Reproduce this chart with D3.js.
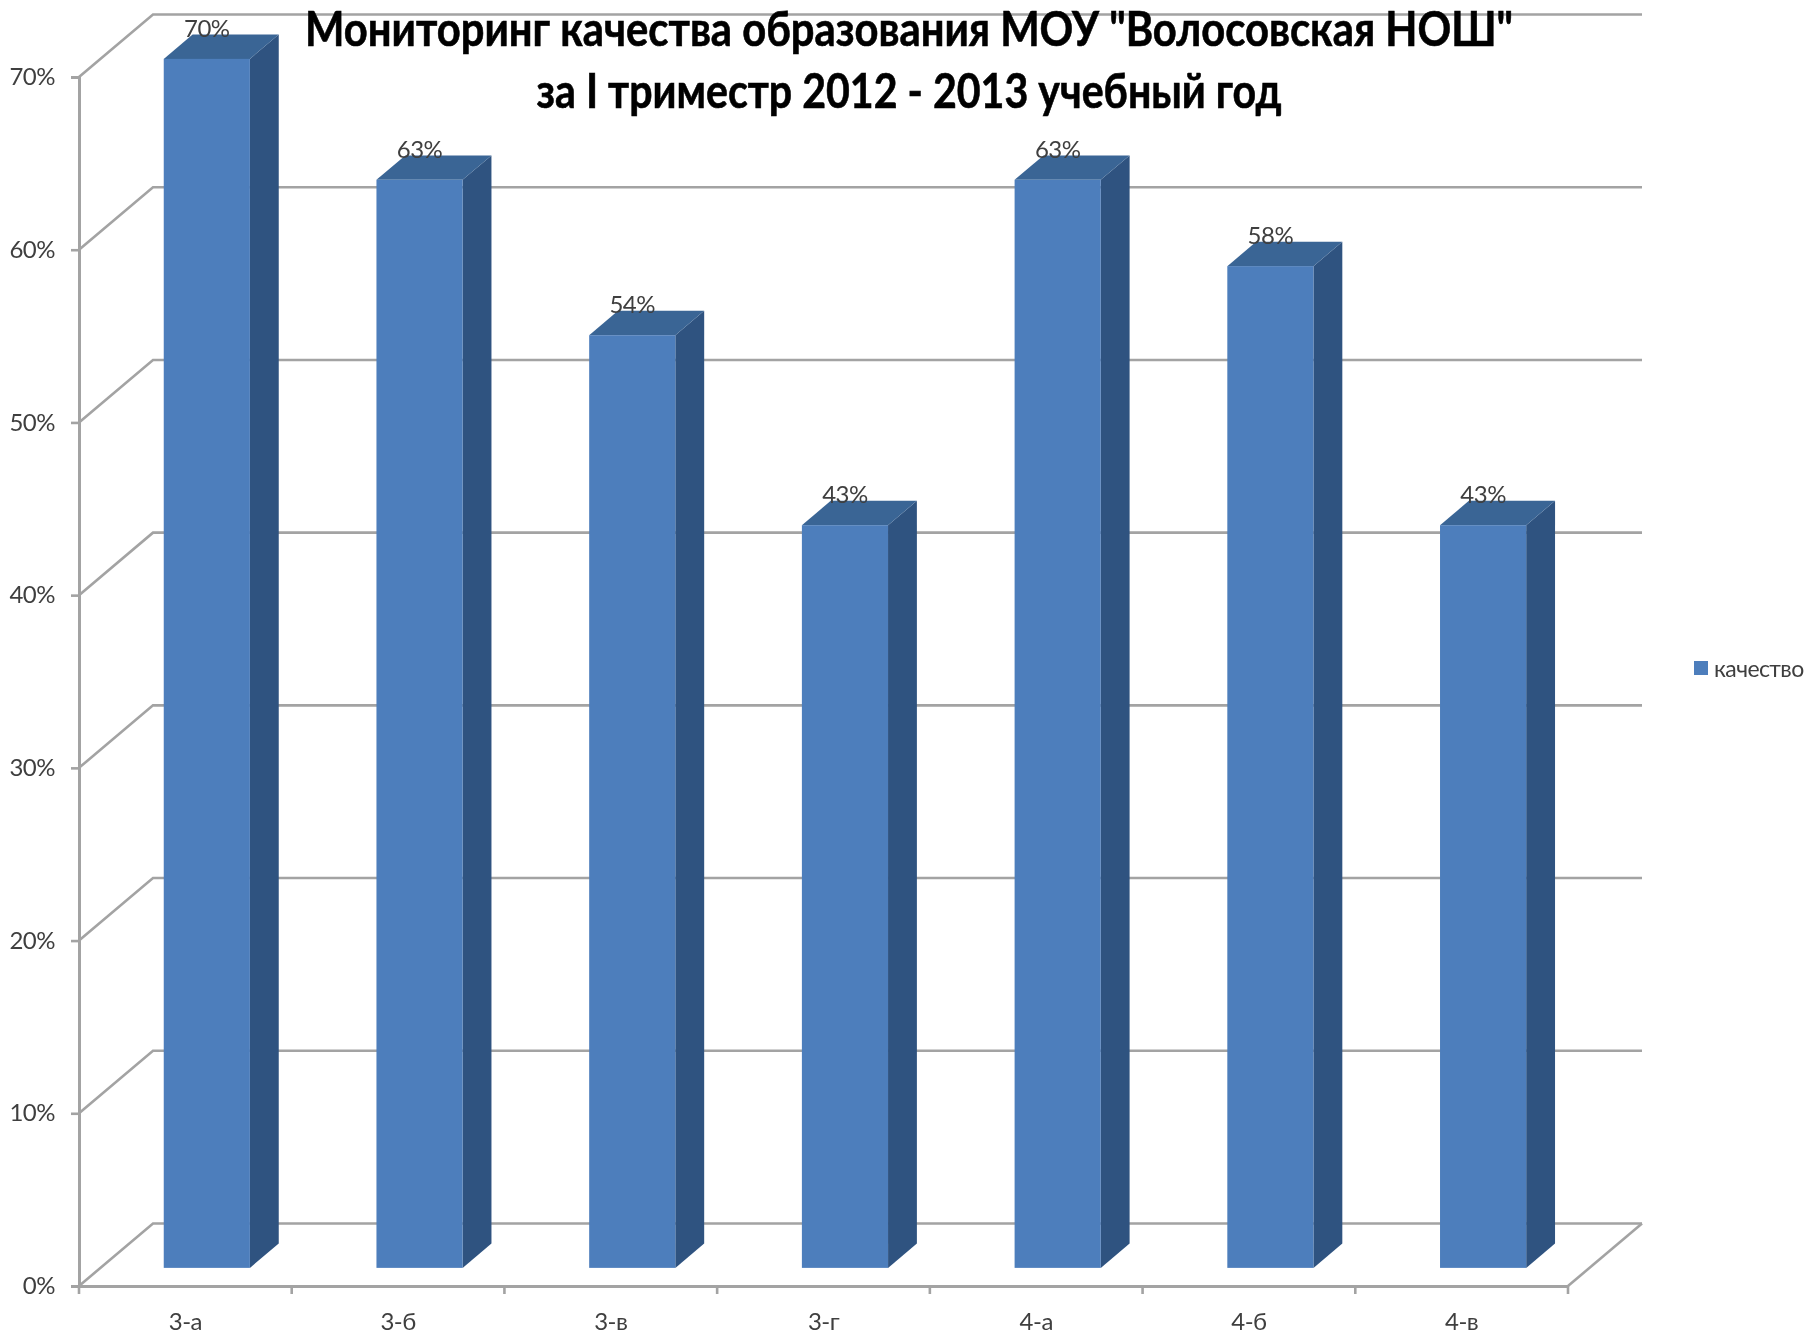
<!doctype html>
<html>
<head>
<meta charset="utf-8">
<title>Мониторинг качества образования</title>
<script src="https://d3js.org/d3.v7.min.js"></script>
<style>
html, body { margin: 0; padding: 0; background: #fff; }
svg { display: block; font-family: Lato, sans-serif; filter: blur(0.6px); }
</style>
</head>
<body>
<div id="chart"></div>
<script>
var classes = ["3-а", "3-б", "3-в", "3-г", "4-а", "4-б", "4-в"];
var quality = [70, 63, 54, 43, 63, 58, 43];
var yTicks = [0, 10, 20, 30, 40, 50, 60, 70];
var titleLines = ['Мониторинг качества образования МОУ "Волосовская НОШ"', 'за I триместр 2012 - 2013 учебный год'];
var titleWidths = [1208, 745];
var seriesName = "качество";

var width = 1811, height = 1334;
var x0 = 79, x1 = 1568, y0 = 1286, yTop = 77;
// floor depth of the 3d box
var depthX = 74, depthY = -62.5;
// where the bars stand inside that depth
var barFront = 0.29, barBack = 0.68;

var svg = d3.select("#chart").append("svg")
  .attr("width", width).attr("height", height);

var x = d3.scaleBand().domain(classes).range([x0, x1]);
var y = d3.scaleLinear().domain([0, 70]).range([y0, yTop]);
var barWidth = x.bandwidth() * 0.405;

var axisColor = "#a3a3a3", textColor = "#3f3f3f";

// back wall lines + the slanted side wall
var grid = svg.append("g").attr("fill", "none").attr("stroke", axisColor).attr("stroke-width", 2.6);
yTicks.forEach(function(t) {
  grid.append("polyline").attr("points", [
    [x0, y(t)], [x0 + depthX, y(t) + depthY], [x1 + depthX, y(t) + depthY]
  ].join(" "));
});
grid.append("line").attr("x1", x1).attr("y1", y0).attr("x2", x1 + depthX).attr("y2", y0 + depthY);

// axes
var yAxis = d3.axisLeft(y).tickValues(yTicks).tickSize(8).tickPadding(16)
  .tickFormat(function(d) { return d + "%"; });
var gy = svg.append("g").attr("transform", "translate(" + x0 + ",0)").call(yAxis);
var xAxis = d3.axisBottom(x).tickSize(0).tickPadding(27);
var gx = svg.append("g").attr("transform", "translate(0," + y0 + ")").call(xAxis);
// excel style ticks between the categories
gx.selectAll(".edge").data(d3.range(classes.length + 1)).enter().append("line")
  .attr("class", "edge")
  .attr("x1", function(i) { return x0 + i * x.step(); })
  .attr("x2", function(i) { return x0 + i * x.step(); })
  .attr("y1", 0).attr("y2", 8);
[gy, gx].forEach(function(g) {
  g.selectAll("line").attr("stroke", axisColor).attr("stroke-width", 2.6);
  g.select(".domain").attr("stroke", axisColor).attr("stroke-width", 3);
  g.selectAll("text").attr("fill", textColor).attr("font-size", 24)
    .attr("letter-spacing", -0.5).attr("font-family", "Lato, sans-serif");
});
gx.selectAll("text").attr("dy", "0.71em");

// bars
var rows = classes.map(function(c, i) {
  var centre = x(c) + x.bandwidth() / 2 + barFront * depthX;
  return {
    name: c, value: quality[i],
    left: centre - barWidth / 2, right: centre + barWidth / 2,
    base: y0 + barFront * depthY, top: y(quality[i]) + barFront * depthY
  };
});
var dx = (barBack - barFront) * depthX, dy = (barBack - barFront) * depthY;

var bars = svg.selectAll(".bar").data(rows).enter().append("g").attr("class", "bar");
bars.append("polygon").attr("fill", "#2f5380")
  .attr("points", function(d) {
    return [[d.right, d.top], [d.right + dx, d.top + dy], [d.right + dx, d.base + dy], [d.right, d.base]].join(" ");
  });
bars.append("polygon").attr("fill", "#3a6595")
  .attr("points", function(d) {
    return [[d.left, d.top], [d.left + dx, d.top + dy], [d.right + dx, d.top + dy], [d.right, d.top]].join(" ");
  });
bars.append("rect").attr("fill", "#4d7ebc")
  .attr("x", function(d) { return d.left; })
  .attr("y", function(d) { return d.top; })
  .attr("width", barWidth)
  .attr("height", function(d) { return d.base - d.top; });
bars.append("text")
  .attr("x", function(d) { return (d.left + d.right) / 2; })
  .attr("y", function(d) { return d.top - 22; })
  .attr("text-anchor", "middle").attr("font-size", 24).attr("letter-spacing", -0.5).attr("fill", textColor)
  .text(function(d) { return d.value + "%"; });

// title, squeezed to the narrow width of the original font
svg.append("g").selectAll("text").data(titleLines).enter().append("text")
  .attr("x", 909)
  .attr("y", function(d, i) { return 46 + i * 62; })
  .attr("text-anchor", "middle")
  .attr("font-size", 47).attr("font-weight", 700).attr("fill", "#000")
  .attr("stroke", "#000").attr("stroke-width", 0.6)
  .attr("textLength", function(d, i) { return titleWidths[i]; })
  .attr("lengthAdjust", "spacingAndGlyphs")
  .text(function(d) { return d; });

// legend
svg.append("rect").attr("x", 1694).attr("y", 661).attr("width", 14).attr("height", 14).attr("fill", "#4d7ebc");
svg.append("text").attr("x", 1714).attr("y", 677).attr("font-size", 23).attr("letter-spacing", -0.6)
  .attr("fill", textColor).text(seriesName);
</script>
</body>
</html>
